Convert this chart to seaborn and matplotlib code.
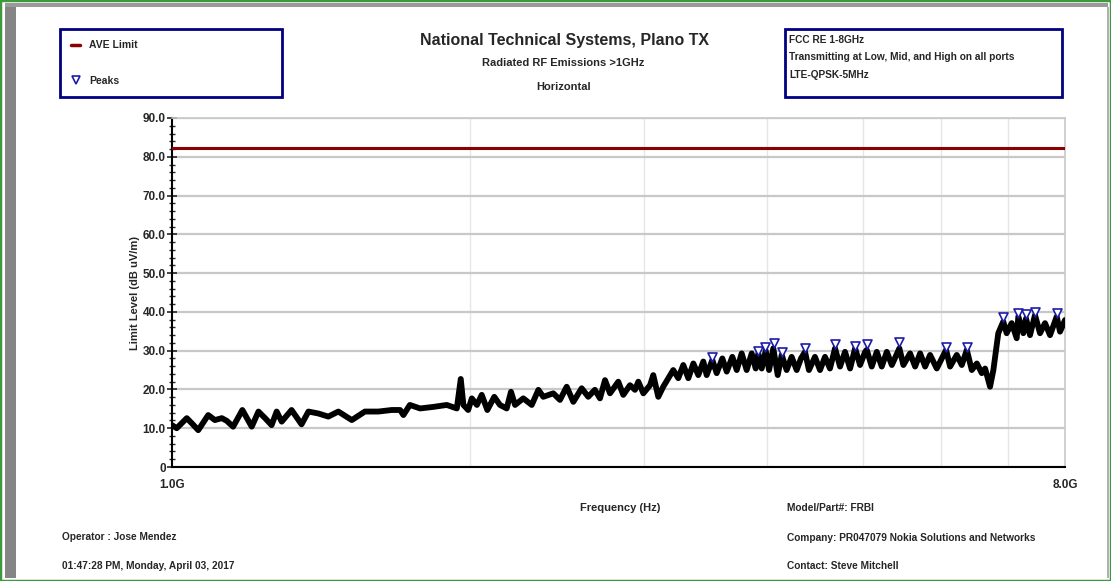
import numpy as np
import pandas as pd
import seaborn as sns
import matplotlib.pyplot as plt
from matplotlib.lines import Line2D
from matplotlib.patches import Rectangle
from matplotlib.ticker import FixedLocator, FixedFormatter, NullFormatter

# %% Data (frequency in GHz, level in dB uV/m)
trace_freq_low = [
    1.000, 1.011, 1.035, 1.047, 1.063, 1.088, 1.105, 1.123, 1.136, 1.153,
    1.178, 1.204, 1.223, 1.242, 1.261, 1.276, 1.291, 1.321, 1.352, 1.374,
    1.406, 1.439, 1.473, 1.520, 1.567, 1.617, 1.668,
    1.701, 1.714, 1.740, 1.782, 1.838, 1.896, 1.941, 1.959, 1.971, 1.993,
    2.010, 2.034, 2.057, 2.084, 2.118, 2.146, 2.180, 2.202, 2.223, 2.266,
    2.311, 2.347, 2.374, 2.430, 2.468, 2.507, 2.546, 2.596, 2.636, 2.677,
    2.709, 2.741, 2.773, 2.827, 2.860, 2.905,
]
trace_level_low = [
    10.8, 10.0, 12.6, 11.3, 9.5, 13.4, 12.1, 12.6, 11.9, 10.4,
    14.7, 10.4, 14.3, 12.6, 10.8, 14.3, 11.7, 14.7, 11.0, 14.3,
    13.8, 13.0, 14.3, 12.1, 14.3, 14.3, 14.7,
    14.7, 13.4, 16.0, 15.1, 15.5, 16.0, 15.1, 22.7, 16.0, 14.7,
    17.7, 16.0, 18.6, 14.7, 18.1, 16.0, 15.1, 19.4, 16.0, 17.7,
    16.0, 19.9, 18.1, 19.0, 17.3, 20.7, 16.8, 20.3, 18.1, 19.9,
    17.7, 22.4, 19.0, 22.0, 18.6, 21.1,
]
trace_freq_high = [
    2.939, 2.962, 2.997, 3.044, 3.067, 3.103, 3.139, 3.213, 3.251, 3.289,
    3.328, 3.367, 3.406, 3.446, 3.473, 3.519, 3.555, 3.602, 3.639, 3.687,
    3.725, 3.768, 3.812, 3.857, 3.893, 3.917, 3.948, 3.985, 4.016, 4.056,
    4.098, 4.136, 4.184, 4.233, 4.283, 4.326, 4.367, 4.407, 4.469, 4.522,
    4.575, 4.628, 4.683, 4.738, 4.793, 4.850, 4.907, 4.964, 5.023,
    5.042, 5.101, 5.161, 5.221, 5.283, 5.345, 5.440, 5.491, 5.577, 5.643,
    5.709, 5.776, 5.843, 5.935, 6.065, 6.122, 6.218, 6.291, 6.365, 6.439,
    6.515, 6.591, 6.642, 6.719, 6.771, 6.849, 6.929, 6.984, 7.066, 7.149,
    7.176, 7.260, 7.306, 7.374, 7.460, 7.548, 7.636, 7.726, 7.847, 7.908,
    8.000,
]
trace_level_high = [
    19.9, 22.0, 19.0, 21.1, 23.7, 18.1, 20.7, 25.0, 22.9, 26.3,
    22.9, 26.7, 23.7, 27.2, 23.7, 27.6, 24.2, 28.0, 24.6, 28.4,
    25.0, 29.3, 25.0, 29.3, 25.4, 29.3, 25.4, 30.0, 25.0, 30.6,
    23.7, 28.9, 25.0, 28.4, 25.0, 28.0, 29.7, 25.0, 28.4, 25.0,
    28.4, 25.4, 30.6, 25.9, 29.7, 25.4, 30.6, 26.3, 29.7,
    30.2, 25.9, 29.7, 25.9, 29.7, 26.3, 30.6, 26.3, 29.3, 25.9,
    29.3, 25.9, 28.9, 25.4, 30.2, 25.9, 28.9, 26.3, 30.2, 25.0,
    26.7, 24.2, 25.4, 20.7, 25.0, 34.5, 37.5, 34.5, 37.1, 33.2,
    38.8, 34.5, 38.3, 34.0, 39.2, 34.5, 37.1, 34.0, 38.8, 34.9,
    37.9,
]

peak_freq = [3.52, 3.91, 3.98, 4.06, 4.14, 4.37, 4.68, 4.91, 5.05,
             5.44, 6.07, 6.37, 6.93, 7.17, 7.31, 7.46, 7.85]
peak_level = [28.4, 30.0, 31.0, 31.9, 29.6, 30.6, 31.6, 31.3, 31.6,
              32.3, 31.0, 31.0, 38.8, 39.6, 39.5, 40.0, 39.8]

limit_freq = [1.0, 8.0]
limit_level = [82.2, 82.2]

y_ticks = [0, 10, 20, 30, 40, 50, 60, 70, 80, 90]
y_ticklabels = ['0', '10.0', '20.0', '30.0', '40.0', '50.0', '60.0', '70.0', '80.0', '90.0']
x_ticks = [1.0, 8.0]
x_ticklabels = ['1.0G', '8.0G']
x_grid = [2, 3, 4, 5, 6, 7]

# %% Figure setup
W, H = 1111, 581
sns.set_style('white')
plt.rcParams['font.family'] = ['Liberation Sans', 'DejaVu Sans']
plt.rcParams['font.weight'] = 'bold'


def fx(x):
    return x / W


def fy(y):
    return 1 - y / H


fig = plt.figure(figsize=(W / 100, H / 100), dpi=100)
ax = fig.add_axes([fx(172), fy(467), (1065 - 172) / W, (467 - 118) / H])

dftrace = pd.DataFrame({
    'freq': trace_freq_low + trace_freq_high,
    'level': trace_level_low + trace_level_high,
})
dfpeaks = pd.DataFrame({'freq': peak_freq, 'level': peak_level})
dflimit = pd.DataFrame({'freq': limit_freq, 'level': limit_level})

sns.lineplot(data=dflimit, x='freq', y='level', color='#8b0000', lw=2.2,
             estimator=None, ax=ax, zorder=3)
sns.lineplot(data=dftrace, x='freq', y='level', color='black', lw=4.2,
             estimator=None, sort=False, ax=ax, zorder=3)
sns.scatterplot(data=dfpeaks, x='freq', y='level', marker='v', s=42,
                facecolor='white', edgecolor='#1c1ca8', linewidth=1.2,
                ax=ax, zorder=4)

# %% Axes
ax.set_xscale('log')
ax.set_xlim(1, 8)
ax.set_ylim(0, 90)
ax.xaxis.set_major_locator(FixedLocator(x_ticks))
ax.xaxis.set_major_formatter(FixedFormatter(x_ticklabels))
ax.xaxis.set_minor_locator(FixedLocator(x_grid))
ax.xaxis.set_minor_formatter(NullFormatter())
ax.yaxis.set_major_locator(FixedLocator(y_ticks))
ax.yaxis.set_major_formatter(FixedFormatter(y_ticklabels))
ax.yaxis.set_minor_locator(FixedLocator(np.arange(0, 91, 2)))

ax.tick_params(axis='x', which='major', length=0, pad=9, labelsize=8.5)
ax.tick_params(axis='x', which='minor', length=6, width=1, direction='inout')
ax.tick_params(axis='y', which='major', length=7, width=1.2, direction='inout',
               pad=1, labelsize=8.5, left=True)
ax.tick_params(axis='y', which='minor', length=5, width=1, direction='inout', left=True)

ax.grid(which='major', axis='y', color='#c8c8c8', lw=1.6)
ax.grid(which='minor', axis='x', color='#e6e6e6', lw=1)
ax.grid(which='major', axis='x', visible=False)

for side in ['left', 'bottom']:
    ax.spines[side].set_color('black')
    ax.spines[side].set_linewidth(1.5)
for side in ['top', 'right']:
    ax.spines[side].set_color('#c8c8c8')
    ax.spines[side].set_linewidth(1.2)

ax.set_xlabel('Frequency (Hz)', fontsize=8, fontweight='bold')
ax.set_ylabel('Limit Level (dB uV/m)', fontsize=8, fontweight='bold')
ax.xaxis.set_label_coords((620 - 172) / 893, (467 - 503) / 349)
ax.yaxis.set_label_coords((140 - 172) / 893, 0.5)

# %% Header texts
fig.text(fx(565), fy(40), 'National Technical Systems, Plano TX',
         ha='center', va='center', fontsize=11.5, fontweight='bold')
fig.text(fx(563), fy(63), 'Radiated RF Emissions >1GHz',
         ha='center', va='center', fontsize=8)
fig.text(fx(564), fy(87), 'Horizontal', ha='center', va='center', fontsize=8)

# Legend box
handles = [
    Line2D([], [], color='#8b0000', lw=2.5),
    Line2D([], [], marker='v', ls='none', mfc='white', mec='#1c1ca8', mew=1.2, ms=6),
]
leg = fig.legend(handles, ['AVE Limit', 'Peaks'], loc='upper left',
                 bbox_to_anchor=(fx(60), fy(98), (282 - 60) / W, (98 - 29) / H),
                 mode='expand', fontsize=7.5, frameon=True, fancybox=False,
                 framealpha=1, borderpad=1.1, labelspacing=2.45,
                 handlelength=0.8, handletextpad=0.9, borderaxespad=0)
leg.get_frame().set_edgecolor('#000080')
leg.get_frame().set_linewidth(2)

# Test info box
fig.add_artist(Rectangle((fx(785), fy(97)), (1062 - 785) / W, (97 - 29) / H,
                         transform=fig.transFigure, fill=False,
                         ec='#000080', lw=2))
box_lines = ['FCC RE 1-8GHz',
             'Transmitting at Low, Mid, and High on all ports',
             'LTE-QPSK-5MHz']
for i, txt in enumerate(box_lines):
    fig.text(fx(789), fy(40 + 17.5 * i), txt, ha='left', va='center', fontsize=7.3)

# Footer texts
fig.text(fx(62), fy(537), 'Operator : Jose Mendez', ha='left', va='center', fontsize=7.3)
fig.text(fx(62), fy(566), '01:47:28 PM, Monday, April 03, 2017',
         ha='left', va='center', fontsize=7.3)
fig.text(fx(787), fy(508), 'Model/Part#: FRBI', ha='left', va='center', fontsize=7.3)
fig.text(fx(787), fy(538), 'Company: PR047079 Nokia Solutions and Networks',
         ha='left', va='center', fontsize=7.3)
fig.text(fx(787), fy(566), 'Contact: Steve Mitchell', ha='left', va='center', fontsize=7.3)

# Window frame
fig.add_artist(Rectangle((fx(5), fy(578)), 11 / W, 571 / H, transform=fig.transFigure,
                         fc='#858585', ec='none'))
fig.add_artist(Rectangle((fx(5), fy(7)), 1103 / W, 4 / H, transform=fig.transFigure,
                         fc='#9a9a9a', ec='none'))
fig.add_artist(Rectangle((fx(1107), fy(578)), 2 / W, 571 / H, transform=fig.transFigure,
                         fc='#b0b0b0', ec='none'))
fig.add_artist(Rectangle((0, 0), 1, 1, transform=fig.transFigure, fill=False,
                         ec='#3c9a3c', lw=2.5))

fig.savefig('out.png', dpi=100)
